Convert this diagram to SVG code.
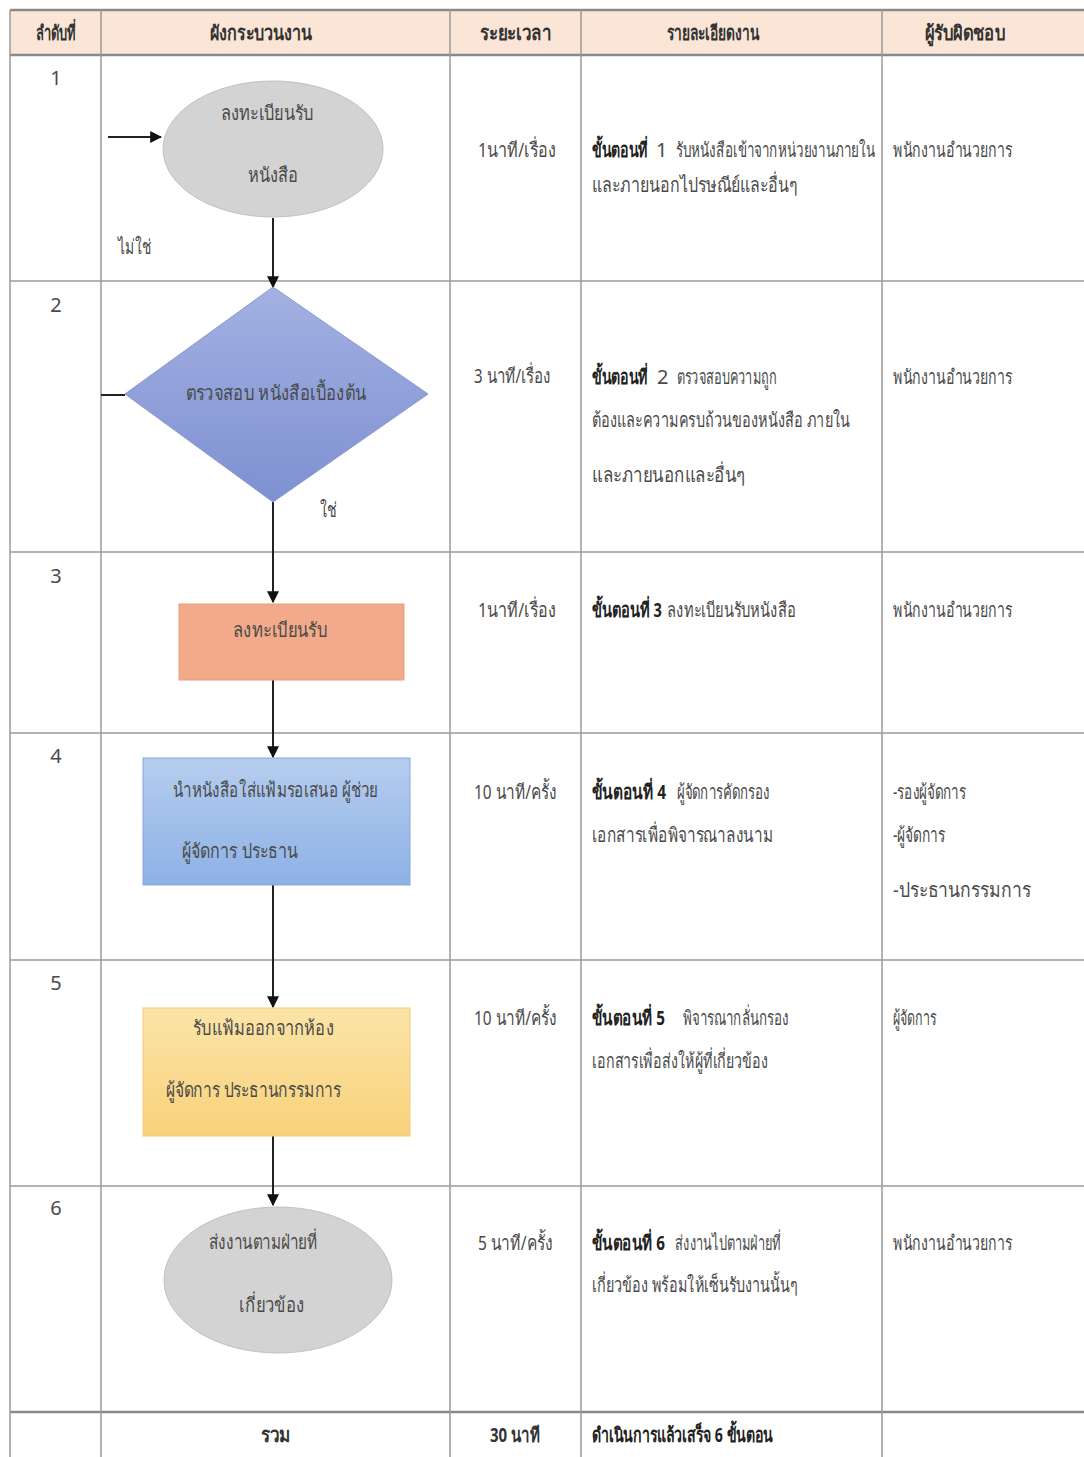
<svg xmlns="http://www.w3.org/2000/svg" width="1084" height="1457" viewBox="0 0 1084 1457">
<defs>
<style>
text{font-family:"Noto Sans","Liberation Sans",sans-serif;font-size:20px;fill:#4a4a4a}
.h{font-weight:bold;fill:#333;text-anchor:middle}
.c{text-anchor:middle}
.b{font-weight:bold;fill:#222}
.grid{stroke:#9a9a9a;stroke-width:1.5;fill:none}
.hgrid{stroke:#8a8a8a;stroke-width:2.5;fill:none}
.conn{stroke:#222;stroke-width:2;fill:none}
</style>
<linearGradient id="gDia" x1="0" y1="0" x2="0" y2="1"><stop offset="0" stop-color="#A3B1E2"/><stop offset="1" stop-color="#7D90D1"/></linearGradient>
<linearGradient id="gR4" x1="0" y1="0" x2="0" y2="1"><stop offset="0" stop-color="#B6CDEF"/><stop offset="1" stop-color="#8DB1E5"/></linearGradient>
<linearGradient id="gR5" x1="0" y1="0" x2="0" y2="1"><stop offset="0" stop-color="#FBE4A8"/><stop offset="1" stop-color="#F8D27A"/></linearGradient>
<marker id="arr" viewBox="0 0 10 10" refX="9" refY="5" markerWidth="6" markerHeight="6" orient="auto"><path d="M0,0 L10,5 L0,10 z" fill="#111"/></marker>
</defs>
<rect width="1084" height="1457" fill="#fff"/>
<g id="table">
<rect x="10" y="10" width="1074" height="45" fill="#FBE5D6"/>
<line class="hgrid" x1="10" y1="10" x2="1084" y2="10"/>
<line class="hgrid" x1="10" y1="55" x2="1084" y2="55"/>
<line class="grid" x1="10" y1="281" x2="1084" y2="281"/>
<line class="grid" x1="10" y1="552" x2="1084" y2="552"/>
<line class="grid" x1="10" y1="733" x2="1084" y2="733"/>
<line class="grid" x1="10" y1="960" x2="1084" y2="960"/>
<line class="grid" x1="10" y1="1186" x2="1084" y2="1186"/>
<line class="hgrid" x1="10" y1="1412" x2="1084" y2="1412"/>
<line class="grid" x1="10" y1="10" x2="10" y2="1457"/>
<line class="grid" x1="101" y1="10" x2="101" y2="1457"/>
<line class="grid" x1="450" y1="10" x2="450" y2="1457"/>
<line class="grid" x1="581" y1="10" x2="581" y2="1457"/>
<line class="grid" x1="882" y1="10" x2="882" y2="1457"/>
<text class="h" transform="translate(56 40) scale(0.75 1)" textLength="53.3" lengthAdjust="spacingAndGlyphs">ลำดับที่</text>
<text class="h" transform="translate(261 40) scale(0.75 1)" textLength="136" lengthAdjust="spacingAndGlyphs">ผังกระบวนงาน</text>
<text class="h" transform="translate(516 40) scale(0.75 1)" textLength="94.7" lengthAdjust="spacingAndGlyphs">ระยะเวลา</text>
<text class="h" transform="translate(713 40) scale(0.75 1)" textLength="122.7" lengthAdjust="spacingAndGlyphs">รายละเอียดงาน</text>
<text class="h" transform="translate(965 40) scale(0.75 1)" textLength="106.7" lengthAdjust="spacingAndGlyphs">ผู้รับผิดชอบ</text>
<text class="c" x="56" y="85">1</text>
<text class="c" x="56" y="312">2</text>
<text class="c" x="56" y="583">3</text>
<text class="c" x="56" y="763">4</text>
<text class="c" x="56" y="990">5</text>
<text class="c" x="56" y="1215">6</text>
</g>
<g id="connectors">
<line class="conn" x1="108" y1="137" x2="161" y2="137" marker-end="url(#arr)"/>
<line class="conn" x1="273" y1="218" x2="273" y2="287" marker-end="url(#arr)"/>
<line class="conn" x1="125" y1="395" x2="101" y2="395"/>
<line class="conn" x1="273" y1="502" x2="273" y2="602" marker-end="url(#arr)"/>
<line class="conn" x1="273" y1="680" x2="273" y2="757" marker-end="url(#arr)"/>
<line class="conn" x1="273" y1="885" x2="273" y2="1007" marker-end="url(#arr)"/>
<line class="conn" x1="273" y1="1136" x2="273" y2="1205" marker-end="url(#arr)"/>
<text transform="translate(118 254) scale(0.75 1)" textLength="44" lengthAdjust="spacingAndGlyphs">ไม่ใช่</text>
<text transform="translate(320 517) scale(0.75 1)" textLength="22.7" lengthAdjust="spacingAndGlyphs">ใช่</text>
</g>
<g id="node1">
<ellipse cx="273" cy="149" rx="110" ry="68" fill="#D3D3D3" stroke="#C0C0C0"/>
<text class="c" transform="translate(267 120) scale(0.75 1)" textLength="124" lengthAdjust="spacingAndGlyphs">ลงทะเบียนรับ</text>
<text class="c" transform="translate(273 182) scale(0.75 1)" textLength="68" lengthAdjust="spacingAndGlyphs">หนังสือ</text>
</g>
<g id="node2">
<polygon points="273,287 428,394 273,502 125,394" fill="url(#gDia)" stroke="#8797CF"/>
<text class="c" transform="translate(276 400) scale(0.75 1)" textLength="241.3" lengthAdjust="spacingAndGlyphs">ตรวจสอบ หนังสือเบื้องต้น</text>
</g>
<g id="node3">
<rect x="179" y="604" width="225" height="76" fill="#F2AA8A" stroke="#E99F80"/>
<text class="c" transform="translate(280 637) scale(0.75 1)" textLength="125.3" lengthAdjust="spacingAndGlyphs">ลงทะเบียนรับ</text>
</g>
<g id="node4">
<rect x="143" y="758" width="267" height="127" fill="url(#gR4)" stroke="#84A8DC"/>
<text transform="translate(173 797) scale(0.75 1)" textLength="273.3" lengthAdjust="spacingAndGlyphs">นำหนังสือใส่แฟ้มรอเสนอ ผู้ช่วย</text>
<text transform="translate(182 858) scale(0.75 1)" textLength="154.7" lengthAdjust="spacingAndGlyphs">ผู้จัดการ ประธาน</text>
</g>
<g id="node5">
<rect x="143" y="1008" width="267" height="128" fill="url(#gR5)" stroke="#F2CB7C"/>
<text transform="translate(193 1035) scale(0.75 1)" textLength="188" lengthAdjust="spacingAndGlyphs">รับแฟ้มออกจากห้อง</text>
<text transform="translate(166 1097) scale(0.75 1)" textLength="233.3" lengthAdjust="spacingAndGlyphs">ผู้จัดการ ประธานกรรมการ</text>
</g>
<g id="node6">
<ellipse cx="278" cy="1280" rx="114" ry="73" fill="#D3D3D3" stroke="#C0C0C0"/>
<text class="c" transform="translate(263 1249) scale(0.75 1)" textLength="145.3" lengthAdjust="spacingAndGlyphs">ส่งงานตามฝ่ายที่</text>
<text class="c" transform="translate(272 1312) scale(0.75 1)" textLength="86.7" lengthAdjust="spacingAndGlyphs">เกี่ยวข้อง</text>
</g>
<g id="durations">
<text transform="translate(478 157) scale(0.75 1)" textLength="104" lengthAdjust="spacingAndGlyphs">1นาที/เรื่อง</text>
<text transform="translate(474 383) scale(0.75 1)" textLength="102.7" lengthAdjust="spacingAndGlyphs">3 นาที/เรื่อง</text>
<text transform="translate(478 617) scale(0.75 1)" textLength="104" lengthAdjust="spacingAndGlyphs">1นาที/เรื่อง</text>
<text transform="translate(474 799) scale(0.75 1)" textLength="110.7" lengthAdjust="spacingAndGlyphs">10 นาที/ครั้ง</text>
<text transform="translate(474 1025) scale(0.75 1)" textLength="110.7" lengthAdjust="spacingAndGlyphs">10 นาที/ครั้ง</text>
<text transform="translate(478 1250) scale(0.75 1)" textLength="100" lengthAdjust="spacingAndGlyphs">5 นาที/ครั้ง</text>
</g>
<g id="details">
<text class="b" transform="translate(592 157) scale(0.75 1)" textLength="74.7" lengthAdjust="spacingAndGlyphs">ขั้นตอนที่</text>
<text x="656" y="157">1</text>
<text transform="translate(676 157) scale(0.75 1)" textLength="265.3" lengthAdjust="spacingAndGlyphs">รับหนังสือเข้าจากหน่วยงานภายใน</text>
<text transform="translate(592 192) scale(0.75 1)" textLength="273.3" lengthAdjust="spacingAndGlyphs">และภายนอกไปรษณีย์และอื่นๆ</text>
<text class="b" transform="translate(592 384) scale(0.75 1)" textLength="74.7" lengthAdjust="spacingAndGlyphs">ขั้นตอนที่</text>
<text x="657" y="384">2</text>
<text transform="translate(677 384) scale(0.75 1)" textLength="133.3" lengthAdjust="spacingAndGlyphs">ตรวจสอบความถูก</text>
<text transform="translate(592 427) scale(0.75 1)" textLength="344" lengthAdjust="spacingAndGlyphs">ต้องและความครบถ้วนของหนังสือ ภายใน</text>
<text transform="translate(592 482) scale(0.75 1)" textLength="204" lengthAdjust="spacingAndGlyphs">และภายนอกและอื่นๆ</text>
<text class="b" transform="translate(592 617) scale(0.75 1)" textLength="93.3" lengthAdjust="spacingAndGlyphs">ขั้นตอนที่ 3</text>
<text transform="translate(667 617) scale(0.75 1)" textLength="172" lengthAdjust="spacingAndGlyphs">ลงทะเบียนรับหนังสือ</text>
<text class="b" transform="translate(592 799) scale(0.75 1)" textLength="98.7" lengthAdjust="spacingAndGlyphs">ขั้นตอนที่ 4</text>
<text transform="translate(677 799) scale(0.75 1)" textLength="124" lengthAdjust="spacingAndGlyphs">ผู้จัดการคัดกรอง</text>
<text transform="translate(592 842) scale(0.75 1)" textLength="241.3" lengthAdjust="spacingAndGlyphs">เอกสารเพื่อพิจารณาลงนาม</text>
<text class="b" transform="translate(592 1025) scale(0.75 1)" textLength="97.3" lengthAdjust="spacingAndGlyphs">ขั้นตอนที่ 5</text>
<text transform="translate(683 1025) scale(0.75 1)" textLength="141.3" lengthAdjust="spacingAndGlyphs">พิจารณากลั่นกรอง</text>
<text transform="translate(592 1068) scale(0.75 1)" textLength="234.7" lengthAdjust="spacingAndGlyphs">เอกสารเพื่อส่งให้ผู้ที่เกี่ยวข้อง</text>
<text class="b" transform="translate(592 1250) scale(0.75 1)" textLength="97.3" lengthAdjust="spacingAndGlyphs">ขั้นตอนที่ 6</text>
<text transform="translate(675 1250) scale(0.75 1)" textLength="141.3" lengthAdjust="spacingAndGlyphs">ส่งงานไปตามฝ่ายที่</text>
<text transform="translate(592 1292) scale(0.75 1)" textLength="273.3" lengthAdjust="spacingAndGlyphs">เกี่ยวข้อง พร้อมให้เซ็นรับงานนั้นๆ</text>
</g>
<g id="responsible">
<text transform="translate(893 157) scale(0.75 1)" textLength="158.7" lengthAdjust="spacingAndGlyphs">พนักงานอำนวยการ</text>
<text transform="translate(893 384) scale(0.75 1)" textLength="158.7" lengthAdjust="spacingAndGlyphs">พนักงานอำนวยการ</text>
<text transform="translate(893 617) scale(0.75 1)" textLength="158.7" lengthAdjust="spacingAndGlyphs">พนักงานอำนวยการ</text>
<text transform="translate(893 799) scale(0.75 1)" textLength="97.3" lengthAdjust="spacingAndGlyphs">-รองผู้จัดการ</text>
<text transform="translate(893 842) scale(0.75 1)" textLength="69.3" lengthAdjust="spacingAndGlyphs">-ผู้จัดการ</text>
<text transform="translate(893 897) scale(0.75 1)" textLength="184" lengthAdjust="spacingAndGlyphs">-ประธานกรรมการ</text>
<text transform="translate(893 1025) scale(0.75 1)" textLength="57.3" lengthAdjust="spacingAndGlyphs">ผู้จัดการ</text>
<text transform="translate(893 1250) scale(0.75 1)" textLength="158.7" lengthAdjust="spacingAndGlyphs">พนักงานอำนวยการ</text>
</g>
<g id="total">
<text class="h" transform="translate(276 1442) scale(0.75 1)" textLength="40" lengthAdjust="spacingAndGlyphs">รวม</text>
<text class="h" transform="translate(515 1442) scale(0.75 1)" textLength="66.7" lengthAdjust="spacingAndGlyphs">30 นาที</text>
<text class="b" transform="translate(592 1442) scale(0.75 1)" textLength="241.3" lengthAdjust="spacingAndGlyphs">ดำเนินการแล้วเสร็จ 6 ขั้นตอน</text>
</g>
</svg>
